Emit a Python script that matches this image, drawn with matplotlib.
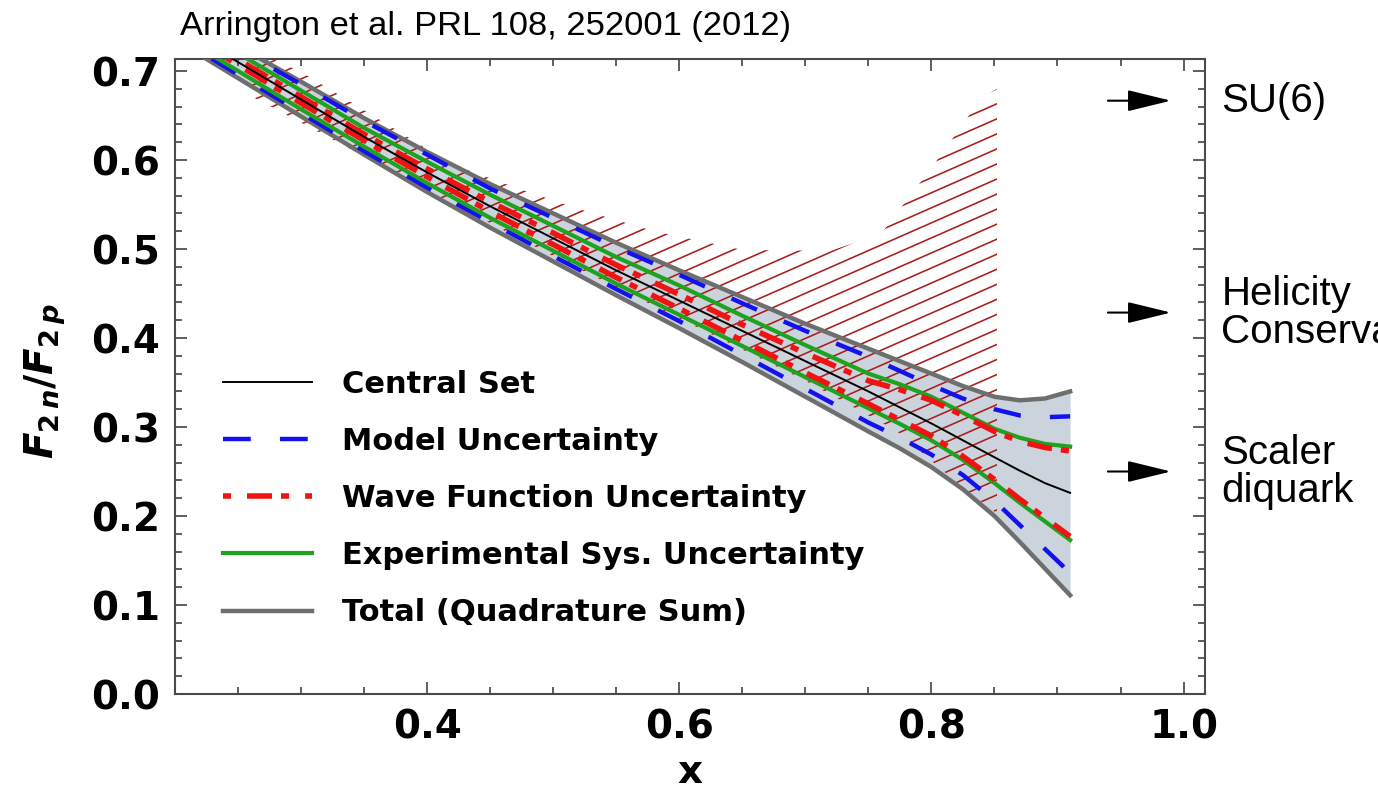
import numpy as np
import matplotlib
matplotlib.use('Agg')
import matplotlib.pyplot as plt
from matplotlib.collections import LineCollection
from matplotlib.patches import Polygon
from matplotlib.ticker import MultipleLocator

plt.rcParams['lines.scale_dashes'] = False
plt.rcParams['font.family'] = 'DejaVu Sans'
plt.rcParams['mathtext.fontset'] = 'custom'
plt.rcParams['mathtext.it'] = 'DejaVu Sans:italic:bold'
plt.rcParams['mathtext.rm'] = 'DejaVu Sans:bold'
plt.rcParams['mathtext.bf'] = 'DejaVu Sans:bold'

###############################################################################
# values
x_grid = [0.20, 0.25, 0.30, 0.35, 0.40, 0.45, 0.50, 0.55, 0.60, 0.65, 0.70,
          0.75, 0.775, 0.80, 0.825, 0.85, 0.87, 0.89, 0.91]
central  = [0.752, 0.710, 0.668, 0.626, 0.586, 0.548, 0.512, 0.476, 0.442, 0.408, 0.374,
            0.340, 0.322, 0.304, 0.285, 0.266, 0.251, 0.237, 0.226]
total_hi = [0.769, 0.728, 0.688, 0.647, 0.609, 0.573, 0.540, 0.507, 0.476, 0.446, 0.416,
            0.388, 0.374, 0.360, 0.346, 0.334, 0.330, 0.332, 0.340]
total_lo = [0.735, 0.692, 0.649, 0.606, 0.564, 0.524, 0.486, 0.448, 0.411, 0.373, 0.334,
            0.295, 0.276, 0.255, 0.230, 0.200, 0.171, 0.141, 0.111]
model_hi = [0.766, 0.725, 0.685, 0.644, 0.606, 0.568, 0.535, 0.502, 0.471, 0.439, 0.408,
            0.379, 0.363, 0.347, 0.332, 0.320, 0.313, 0.311, 0.312]
model_lo = [0.739, 0.696, 0.653, 0.610, 0.569, 0.530, 0.492, 0.455, 0.419, 0.381, 0.343,
            0.305, 0.288, 0.269, 0.246, 0.217, 0.190, 0.163, 0.136]
exp_hi   = [0.760, 0.720, 0.678, 0.636, 0.598, 0.561, 0.526, 0.491, 0.459, 0.425, 0.392,
            0.360, 0.348, 0.334, 0.316, 0.298, 0.288, 0.281, 0.278]
exp_lo   = [0.743, 0.700, 0.657, 0.615, 0.574, 0.535, 0.498, 0.461, 0.426, 0.391, 0.356,
            0.321, 0.3035, 0.285, 0.263, 0.237, 0.215, 0.194, 0.173]
wf_hi    = [0.755, 0.713, 0.671, 0.629, 0.590, 0.553, 0.518, 0.482, 0.449, 0.415, 0.383,
            0.352, 0.342, 0.330, 0.313, 0.295, 0.284, 0.277, 0.273]
wf_lo    = [0.749, 0.707, 0.664, 0.622, 0.581, 0.542, 0.505, 0.468, 0.433, 0.397, 0.361,
            0.326, 0.308, 0.290, 0.267, 0.241, 0.219, 0.198, 0.177]

# hatched (older) band
hatch_top_x = [0.26, 0.30, 0.35, 0.42, 0.47, 0.52, 0.58, 0.65, 0.72, 0.76, 0.80, 0.84, 0.852]
hatch_top   = [0.725, 0.699, 0.656, 0.595, 0.569, 0.545, 0.520, 0.499, 0.498, 0.517, 0.591, 0.670, 0.680]
hatch_bot_x = [0.26, 0.30, 0.35, 0.40, 0.50, 0.60, 0.70, 0.772, 0.80, 0.83, 0.852]
hatch_bot   = [0.672, 0.642, 0.604, 0.566, 0.492, 0.422, 0.352, 0.296, 0.262, 0.226, 0.203]

# model predictions at x -> 1
arrow_y = [2/3, 3/7, 1/4]
arrow_labels = ['SU(6)', 'Helicity\nConservation', 'Scaler\ndiquark']

legend_labels = ['Central Set', 'Model Uncertainty', 'Wave Function Uncertainty',
                 'Experimental Sys. Uncertainty', 'Total (Quadrature Sum)']
###############################################################################

fig = plt.figure(figsize=(13.78, 7.92), dpi=100)
ax = fig.add_axes([175/1378, 98/792, 1030/1378, 635/792])

# total band
ax.fill_between(x_grid, total_lo, total_hi, color='#cbd3dc', lw=0, zorder=1)

# hatched region: slanted lines clipped to the band outline
region = Polygon(np.c_[np.r_[hatch_top_x, hatch_bot_x[::-1]], np.r_[hatch_top, hatch_bot[::-1]]],
                 closed=True, facecolor='none', edgecolor='none')
ax.add_patch(region)
slope, step = 0.623, 0.0169
segs = [[(0.2, c), (0.9, c + slope*0.7)] for c in np.arange(-0.25, 0.75, step)]
lc = LineCollection(segs, colors='#a81e1e', linewidths=1.15, zorder=2)
ax.add_collection(lc)
lc.set_clip_path(region)

# curves
h_tot, = ax.plot(x_grid, total_hi, color='#6e6e6e', lw=3.2, zorder=3)
ax.plot(x_grid, total_lo, color='#6e6e6e', lw=3.2, zorder=3)
h_mod, = ax.plot(x_grid, model_hi, color='#1212ee', lw=3.2, ls=(0, (20, 21)),
                 dash_capstyle='butt', zorder=4)
ax.plot(x_grid, model_lo, color='#1212ee', lw=3.2, ls=(10, (20, 21)), dash_capstyle='butt', zorder=4)
h_exp, = ax.plot(x_grid, exp_hi, color='#1fa21f', lw=3.0, zorder=5)
ax.plot(x_grid, exp_lo, color='#1fa21f', lw=3.0, zorder=5)
red_ls = (24.5, (18, 6.5, 5.8, 11.5))
h_wf, = ax.plot(x_grid, wf_hi, color='#ee1414', lw=4.0, ls=red_ls, dash_capstyle='butt', zorder=6)
ax.plot(x_grid, wf_lo, color='#ee1414', lw=4.0, ls=red_ls, dash_capstyle='butt', zorder=6)
h_cen, = ax.plot(x_grid, central, color='black', lw=1.4, zorder=7)

# arrows + labels on the right
for yv, lab in zip(arrow_y, arrow_labels):
    ax.annotate('', xy=(0.99, yv), xytext=(0.94, yv),
                arrowprops=dict(arrowstyle='-|>,head_length=1.35,head_width=0.33',
                                mutation_scale=20, color='black', lw=1.5,
                                shrinkA=0, shrinkB=0))
    ax.text(1.030, yv, lab, ha='left', va='center', fontsize=29,
            family='Liberation Sans', clip_on=False, linespacing=1.0)

ax.set_xlim(0.2, 1.017)
ax.set_ylim(0, 0.7135)
ax.set_xticks([0.4, 0.6, 0.8, 1.0])
ax.set_yticks(np.arange(0, 0.71, 0.1))
ax.xaxis.set_minor_locator(MultipleLocator(0.05))
ax.yaxis.set_minor_locator(MultipleLocator(0.02))
ax.tick_params(which='both', direction='in', top=True, right=True, color='#333333',
               labelcolor='black', width=1.1, labelsize=28, pad=10.5)
ax.tick_params(which='major', length=8.5)
ax.tick_params(which='minor', length=5)
plt.setp(ax.get_xticklabels() + ax.get_yticklabels(), fontweight='bold')
for s in ax.spines.values():
    s.set_linewidth(1.5)
    s.set_color('#4a4a4a')

ax.set_xlabel('x', fontsize=28, fontweight='bold')
ax.xaxis.set_label_coords(0.5, -0.093)
ax.set_ylabel(r'$F_{2\,n}/F_{2\,p}$', fontsize=28)
ax.yaxis.set_label_coords(-0.104, 0.493)

ax.legend([h_cen, h_mod, h_wf, h_exp, h_tot], legend_labels, loc='center left',
          bbox_to_anchor=(223/1378, 1 - 498.5/792), bbox_transform=fig.transFigure,
          frameon=False, prop=dict(weight='bold', size=22), handlelength=2.9,
          handletextpad=1.0, labelspacing=0.92, borderpad=0, borderaxespad=0)

fig.text(180/1378, 1 - 26/792, 'Arrington et al. PRL 108, 252001 (2012)', fontsize=24.8,
         family='Liberation Sans', ha='left', va='center')

fig.savefig('out.png', dpi=100)
